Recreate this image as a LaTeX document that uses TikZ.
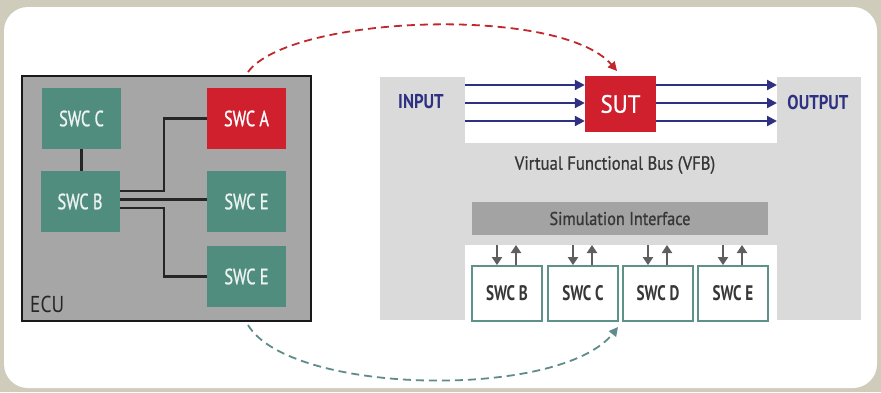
\documentclass[tikz,border=0pt]{standalone}
\usepackage{fontspec}
\setmainfont{PT Sans}
\newfontfamily\stA[FakeStretch=0.74,FakeBold=1.0]{PT Sans}
\newfontfamily\stB[FakeStretch=0.84]{PT Sans}
\newfontfamily\stC[FakeStretch=0.88,FakeBold=0.8]{PT Sans}
\newfontfamily\stD[FakeStretch=0.72]{PT Sans}
\newfontfamily\stE[FakeStretch=0.92,FakeBold=0.8]{PT Sans}
\usetikzlibrary{arrows.meta}
\definecolor{bgout}{RGB}{207,204,188}
\definecolor{ecugray}{RGB}{166,166,166}
\definecolor{swcgreen}{RGB}{80,141,126}
\definecolor{swcred}{RGB}{208,32,46}
\definecolor{panelgray}{RGB}{218,218,218}
\definecolor{simgray}{RGB}{163,163,163}
\definecolor{navy}{RGB}{46,49,130}
\definecolor{txtgray}{RGB}{55,55,55}
\definecolor{arrgray}{RGB}{95,95,95}
\definecolor{dashred}{RGB}{192,40,45}
\definecolor{dashteal}{RGB}{95,140,138}
\definecolor{outteal}{RGB}{94,145,135}
\tikzset{
  greenbox/.style={fill=swcgreen, draw=none, minimum width=79pt, minimum height=61pt, inner sep=0pt, text=white!90!swcgreen, font=\stA\fontsize{22}{22}\selectfont},
  redbox/.style={greenbox, fill=swcred, text=white},
  wire/.style={draw=black!85, line width=2.2pt},
  busarrow/.style={draw=navy, line width=2.2pt, -{Triangle[length=10pt,width=10pt]}},
  smallarrow/.style={draw=arrgray, line width=2.8pt, -{Triangle[length=8pt,width=10pt]}},
  swcout/.style={draw=outteal, line width=1.8pt, fill=white, minimum width=70pt, minimum height=55pt, inner sep=0pt, text=txtgray, font=\stD\fontsize{21}{21}\selectfont\bfseries},
  dashlink/.style={line width=1.8pt, dash pattern=on 8pt off 5pt, -{Triangle[length=9pt,width=9pt]}}
}
\begin{document}
\begin{tikzpicture}[x=1pt,y=-1pt]
\fill[bgout] (0,0) rectangle (881,392);
\useasboundingbox (0,0) rectangle (881,392);
\fill[white, rounded corners=24pt] (4,7) rectangle (877,388);

% ECU
\node[draw=black!90, line width=2pt, fill=ecugray, minimum width=289pt, minimum height=245pt, inner sep=0pt] (ecu) at (166.5,198.5) {};
\node[anchor=south west, inner sep=0pt, font=\stB\fontsize{23}{23}\selectfont, text=black!85] (ecutxt) at (30,313) {ECU};
\node[greenbox] (swcC) at (81.5,118.5) {SWC C};
\node[redbox] (swcA) at (246.5,118.5) {SWC A};
\node[greenbox] (swcB) at (80,201.5) {SWC B};
\node[greenbox] (swcE1) at (246.5,201.5) {SWC E};
\node[greenbox] (swcE2) at (246.5,276.5) {SWC E};
\draw[wire] (swcC.south) -- (swcC.south |- swcB.north);
\draw[wire] ([yshift=10.5pt]swcB.east) -- ++(44,0) |- (swcA.west);
\draw[wire] ([yshift=2pt]swcB.east) -- ([yshift=2pt]swcE1.west);
\draw[wire] ([yshift=-6.5pt]swcB.east) -- ++(44,0) |- (swcE2.west);

% right panel
\fill[panelgray] (380,77) rectangle (861,320);
\fill[white] (465,77) rectangle (777,143);
\fill[white] (465,245) rectangle (777,325);
\node[fill=swcred, minimum width=71pt, minimum height=56pt, inner sep=0pt, text=white, font=\stE\fontsize{25}{25}\selectfont] (sut) at (620.5,104) {SUT};
\foreach \i/\y in {1/85,2/103,3/121}{
  \coordinate (in\i) at (465,\y);
  \coordinate (out\i) at (777,\y);
  \draw[busarrow] (in\i) -- (sut.west |- in\i);
  \draw[busarrow] (sut.east |- in\i) -- (out\i);
}
\node[text=navy, font=\stB\fontsize{20}{20}\selectfont\bfseries] (input) at (421,102) {INPUT};
\node[text=navy, font=\stB\fontsize{20}{20}\selectfont\bfseries] (output) at (818,102) {OUTPUT};
\node[text=txtgray, font=\stC\fontsize{19}{19}\selectfont] (vfb) at (615,165) {Virtual Functional Bus (VFB)};
\node[fill=simgray, minimum width=296pt, minimum height=33pt, inner sep=0pt, text=txtgray, font=\stC\fontsize{18.5}{18.5}\selectfont] (sim) at (620,218.5) {Simulation Interface};
\foreach \n/\x/\t in {b/507/SWC B,c/583/SWC C,d/658/SWC D,e/733/SWC E}{
  \node[swcout] (s\n) at (\x,293.5) {\t};
  \coordinate (top\n) at (\x,245);
  \draw[smallarrow] ([xshift=-10pt]top\n) -- ([xshift=-10pt]s\n.north);
  \draw[smallarrow] ([xshift=9pt]s\n.north) -- ([xshift=9pt]top\n);
}

% dashed links
\coordinate (redstart) at (248,72);
\coordinate (redend) at (617,71);
\draw[dashlink, draw=dashred] (redstart) .. controls (290,15) and (560,5) .. (redend);
\coordinate (tealstart) at (248,325);
\coordinate (tealend) at (618,327);
\draw[dashlink, draw=dashteal] (tealstart) .. controls (290,395) and (560,400) .. (tealend);
\end{tikzpicture}
\end{document}
